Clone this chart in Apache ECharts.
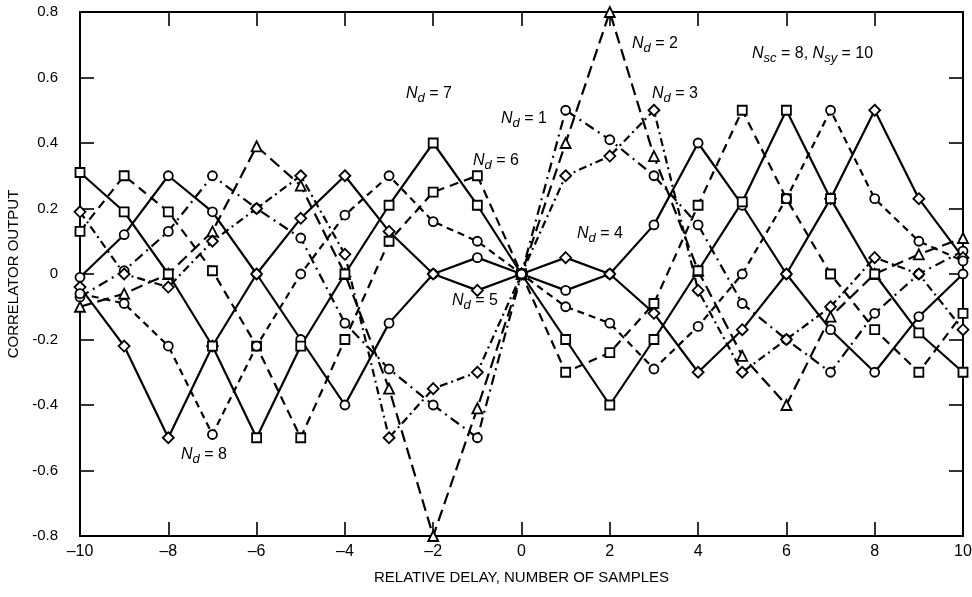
<!DOCTYPE html>
<html><head><meta charset="utf-8">
<script src="https://cdn.jsdelivr.net/npm/echarts@6/dist/echarts.min.js"></script>
<style>html,body{margin:0;padding:0;background:#fff}#c{width:972px;height:597px}</style>
</head><body><div id="c"></div>
<script>
const delays = [-10,-9,-8,-7,-6,-5,-4,-3,-2,-1,0,1,2,3,4,5,6,7,8,9,10];
const nd1 = [-0.07,0.01,0.13,0.30,0.20,0.11,-0.15,-0.29,-0.40,-0.50,0,0.50,0.41,0.30,0.15,-0.09,-0.20,-0.30,-0.12,0.00,0.07];
const nd2 = [-0.10,-0.06,0.00,0.13,0.39,0.27,0.00,-0.35,-0.80,-0.41,0,0.40,0.80,0.36,0.01,-0.25,-0.40,-0.13,0.00,0.06,0.11];
const nd3 = [0.19,0.00,-0.04,0.10,0.20,0.30,0.06,-0.50,-0.35,-0.30,0,0.30,0.36,0.50,-0.05,-0.30,-0.20,-0.10,0.05,0.00,-0.17];
const nd4 = [-0.01,0.12,0.30,0.19,0.00,-0.20,-0.40,-0.15,0.00,0.05,0,-0.05,0.00,0.15,0.40,0.21,0.00,-0.17,-0.30,-0.13,0.00];
const nd5 = [-0.04,-0.22,-0.50,-0.22,0.00,0.17,0.30,0.13,0.00,-0.05,0,0.05,0.00,-0.12,-0.30,-0.17,0.00,0.23,0.50,0.23,0.05];
const nd6 = [0.13,0.30,0.19,0.01,-0.22,-0.50,-0.20,0.10,0.25,0.30,0,-0.30,-0.24,-0.09,0.21,0.50,0.23,0.00,-0.17,-0.30,-0.12];
const nd7 = [0.31,0.19,0.00,-0.22,-0.50,-0.22,0.00,0.21,0.40,0.21,0,-0.20,-0.40,-0.20,0.01,0.22,0.50,0.23,0.00,-0.18,-0.30];
const nd8 = [-0.06,-0.09,-0.22,-0.49,-0.22,0.00,0.18,0.30,0.16,0.10,0,-0.10,-0.15,-0.29,-0.16,0.00,0.23,0.50,0.23,0.10,0.04];
const xTicks = [-10,-8,-6,-4,-2,0,2,4,6,8,10];
const yTicks = [-0.8,-0.6,-0.4,-0.2,0,0.2,0.4,0.6,0.8];

const FONT = 'Liberation Sans, Arial, Helvetica, sans-serif';
const pair = arr => delays.map((d,i)=>[d,arr[i]]);
function mk(name, arr, symbol, dash){
  return {
    name, type:'line', data: pair(arr), symbol, symbolSize: symbol==='triangle'?10:(symbol==='diamond'?11:9),
    showSymbol:true, animation:false, z: 3,
    lineStyle:{color:'#000', width:2.2, type: dash},
    itemStyle:{color:'#fff', borderColor:'#000', borderWidth:1.8}
  };
}
const series = [
  mk('Nd1', nd1, 'circle', [10,5,2,5]),
  mk('Nd2', nd2, 'triangle', [12,6]),
  mk('Nd3', nd3, 'diamond', [8,4,2,4]),
  mk('Nd4', nd4, 'circle', 'solid'),
  mk('Nd5', nd5, 'diamond', 'solid'),
  mk('Nd6', nd6, 'rect', [9,6]),
  mk('Nd7', nd7, 'rect', 'solid'),
  mk('Nd8', nd8, 'circle', [7,5])
];

const richStyle = {
  i:{fontStyle:'italic', fontSize:16, fontFamily:FONT},
  s:{fontStyle:'italic', fontSize:13, fontFamily:FONT, padding:[9,0,0,0]},
  t:{fontSize:16, fontFamily:FONT}
};
function lab(x,y,text){
  return {type:'text', left:x, top:y, z:10, style:{text, rich:richStyle, fill:'#000', font:'16px '+FONT}};
}
function nd(k){ return '{i|N}{s|d}{t| = '+k+'}'; }

const chart = echarts.init(document.getElementById('c'), null, {renderer:'canvas'});
const axisCommon = {
  axisLine:{show:true, onZero:false, lineStyle:{color:'#000', width:2}},
  axisTick:{show:true, inside:true, length:14, lineStyle:{color:'#000', width:1.6}},
  splitLine:{show:false}
};
chart.setOption({
  animation:false,
  backgroundColor:'#fff',
  grid:{left:80, top:12, width:883, height:524, containLabel:false, outerBoundsMode:'none'},
  xAxis:[
    Object.assign({type:'value', min:-10, max:10, interval:2, position:'bottom',
      axisLabel:{color:'#000', fontSize:16, fontFamily:FONT, margin:8,
        formatter: v => (xTicks.indexOf(v)>=0 ? (v<0 ? '\u2013'+Math.abs(v) : String(v)) : '')},
      name:'RELATIVE DELAY, NUMBER OF SAMPLES', nameLocation:'middle', nameGap:34,
      nameTextStyle:{color:'#000', fontSize:15, fontFamily:FONT}}, axisCommon),
    Object.assign({type:'value', min:-10, max:10, interval:2, position:'top', axisLabel:{show:false}}, axisCommon)
  ],
  yAxis:[
    Object.assign({type:'value', min:-0.8, max:0.8, interval:0.2, position:'left',
      axisLabel:{color:'#000', fontSize:15, fontFamily:FONT, margin:22,
        formatter: v => { const r = Math.round(v*10)/10; if (r===0) return '0'; const s = Math.abs(r).toFixed(1); return (r<0?'-':'')+s; }},
      name:'CORRELATOR OUTPUT', nameLocation:'middle', nameGap:58, nameRotate:90,
      nameTextStyle:{color:'#000', fontSize:15, fontFamily:FONT}}, axisCommon),
    Object.assign({type:'value', min:-0.8, max:0.8, interval:0.2, position:'right', axisLabel:{show:false}}, axisCommon)
  ],
  series,
  graphic:[
    lab(632, 36, nd(2)),
    lab(652, 86, nd(3)),
    lab(406, 86, nd(7)),
    lab(501, 111, nd(1)),
    lab(473, 153, nd(6)),
    lab(577, 226, nd(4)),
    lab(452, 293, nd(5)),
    lab(181, 447, nd(8)),
    {type:'text', left:752, top:46, z:10, style:{text:'{i|N}{s|sc}{t| = 8, }{i|N}{s|sy}{t| = 10}', rich:richStyle, fill:'#000', font:'16px '+FONT}}
  ]
});
</script>
</body></html>
